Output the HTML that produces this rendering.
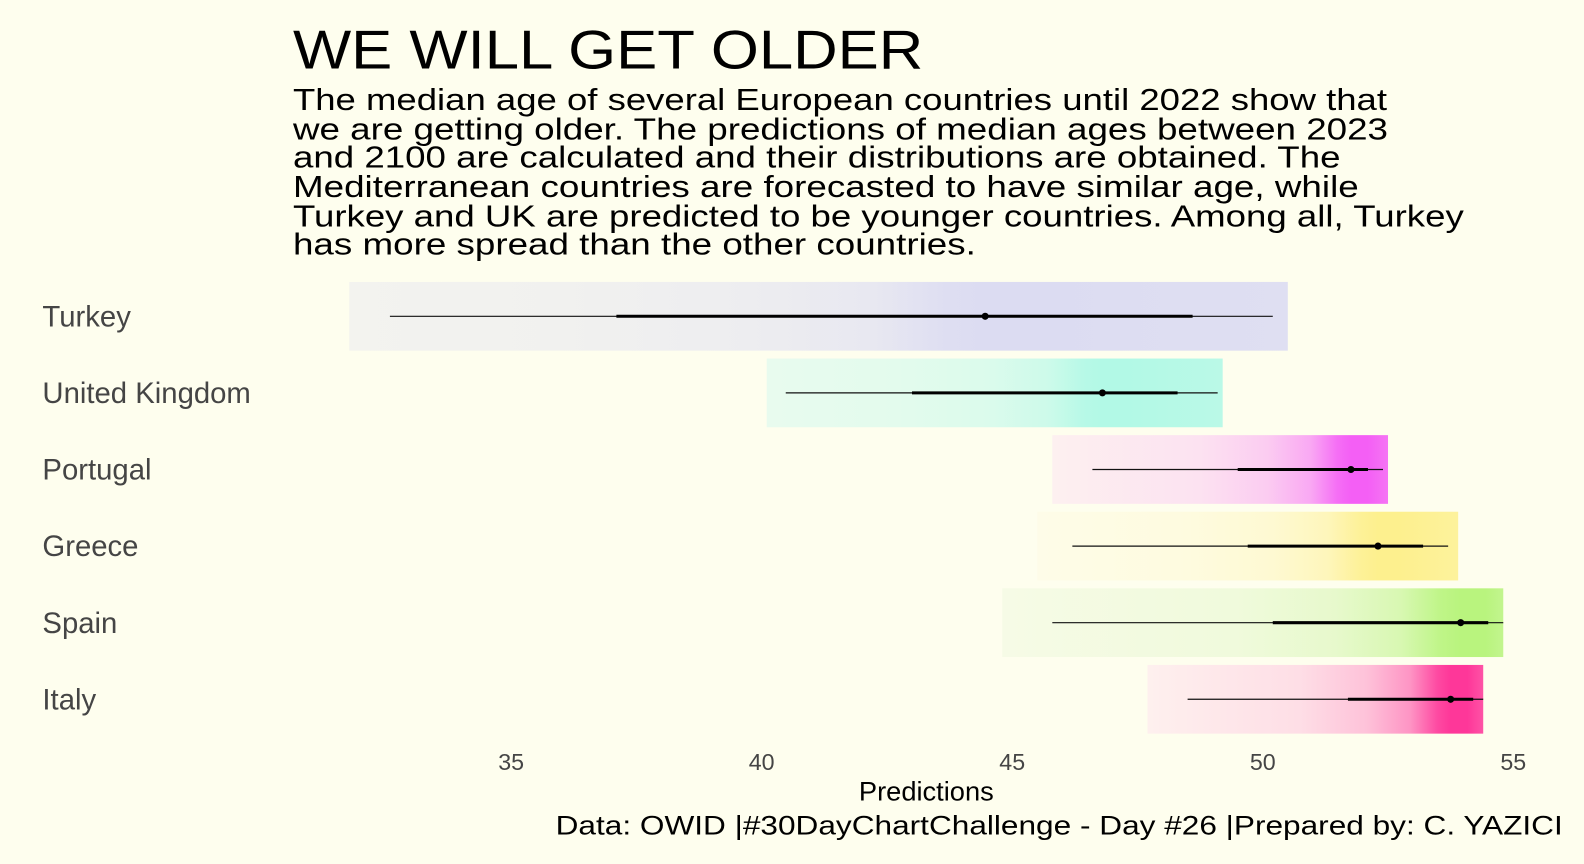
<!DOCTYPE html>
<html><head><meta charset="utf-8"><style>
html,body{margin:0;padding:0;overflow:hidden;background:#fefeee;width:1584px;height:864px;}
svg{display:block;font-family:"Liberation Sans",sans-serif;}
</style></head><body>
<svg id="chart" width="1584" height="864" viewBox="0 0 1568 855" preserveAspectRatio="none">
<rect width="1568" height="855" fill="#fefeee"/>
<text x="290" y="68" font-size="54" fill="#000" textLength="624" lengthAdjust="spacingAndGlyphs">WE WILL GET OLDER</text>
<g font-size="30" fill="#000">
<text x="290" y="109" textLength="1083" lengthAdjust="spacingAndGlyphs">The median age of several European countries until 2022 show that</text>
<text x="290" y="138" textLength="1084" lengthAdjust="spacingAndGlyphs">we are getting older. The predictions of median ages between 2023</text>
<text x="290" y="166" textLength="1037" lengthAdjust="spacingAndGlyphs">and 2100 are calculated and their distributions are obtained. The</text>
<text x="290" y="195" textLength="1055" lengthAdjust="spacingAndGlyphs">Mediterranean countries are forecasted to have similar age, while</text>
<text x="290" y="224" textLength="1159" lengthAdjust="spacingAndGlyphs">Turkey and UK are predicted to be younger countries. Among all, Turkey</text>
<text x="290" y="252" textLength="676" lengthAdjust="spacingAndGlyphs">has more spread than the other countries.</text>
</g>
<defs id="defs"></defs>
<g id="plot"></g>
<text x="917" y="792" font-size="27" text-anchor="middle" fill="#000">Predictions</text>
<text x="1547" y="826" font-size="27" text-anchor="end" fill="#000" textLength="997" lengthAdjust="spacingAndGlyphs">Data: OWID |#30DayChartChallenge - Day #26 |Prepared by: C. YAZICI</text>
</svg>
<script>
const countries=["Turkey","United Kingdom","Portugal","Greece","Spain","Italy"];
const bandMin=[31.77,40.1,45.8,45.5,44.8,47.7];
const bandMax=[50.5,49.2,52.5,53.9,54.8,54.4];
const thinLo=[32.58,40.48,46.6,46.2,45.8,48.5];
const thinHi=[50.2,49.1,52.4,53.7,54.8,54.4];
const thickLo=[37.1,43.0,49.5,49.7,50.2,51.7];
const thickHi=[48.6,48.3,52.1,53.2,54.5,54.2];
const medians=[44.46,46.8,51.76,52.3,53.95,53.75];
const ticks=[35,40,45,50,55];
const paleColors=["#f3f3ef","#e8fbee","#fdf0f0","#fefce8","#f6fbe6","#fef0ee"];
const peakColors=["#dcdcf2","#b2f9e6","#f45ff5","#fdf08e","#b9f47e","#fe3799"];
const NS="http://www.w3.org/2000/svg";
const x=v=>506+(v-35)*49.6;
const y=i=>313+i*75.8;
const plot=document.getElementById('plot'),defs=document.getElementById('defs');
function mk(tag,attrs,parent){const e=document.createElementNS(NS,tag);for(const k in attrs)e.setAttribute(k,attrs[k]);parent.appendChild(e);return e;}
const cl=v=>Math.max(0,Math.min(1,v));
function mix(a,b,t){const pa=[1,3,5].map(k=>parseInt(a.substr(k,2),16)),pb=[1,3,5].map(k=>parseInt(b.substr(k,2),16));return 'rgb('+pa.map((v,k)=>Math.round(v+(pb[k]-v)*t)).join(',')+')';}
countries.forEach((c,i)=>{
  const g=mk('linearGradient',{id:'g'+i,x1:'0',x2:'1',y1:'0',y2:'0'},defs);
  const p=(medians[i]-bandMin[i])/(bandMax[i]-bandMin[i]);
  const stops=[[0,0],[cl(p-0.45),0.1],[cl(p-0.25),0.25],[cl(p-0.12),0.5],[cl(p-0.04),0.9],[cl(p),1],[cl(p+0.05),1],[1,0.85]];
  stops.forEach(s=>mk('stop',{offset:s[0],'stop-color':mix(paleColors[i],peakColors[i],s[1])},g));
  const band=mk('rect',{x:x(bandMin[i]),y:y(i)-34,width:x(bandMax[i])-x(bandMin[i]),height:68,fill:'url(#g'+i+')'},plot);
  
  
  const l1=mk('line',{x1:x(thinLo[i]),x2:x(thinHi[i]),y1:y(i),y2:y(i),stroke:'#111','stroke-width':1.2},plot);
  
  
  const l2=mk('line',{x1:x(thickLo[i]),x2:x(thickHi[i]),y1:y(i),y2:y(i),stroke:'#000','stroke-width':3},plot);
  
  
  const pt=mk('circle',{cx:x(medians[i]),cy:y(i),r:3.5,fill:'#000'},plot);
  
  
  const t=mk('text',{x:42,y:y(i)+10,'font-size':29,fill:'#454545'},plot);
  t.textContent=c;
  
  
});
ticks.forEach(v=>{
  const t=mk('text',{x:x(v),y:762,'font-size':23,fill:'#454545','text-anchor':'middle'},plot);
  t.textContent=v;
  
  
});
</script>
</body></html>
